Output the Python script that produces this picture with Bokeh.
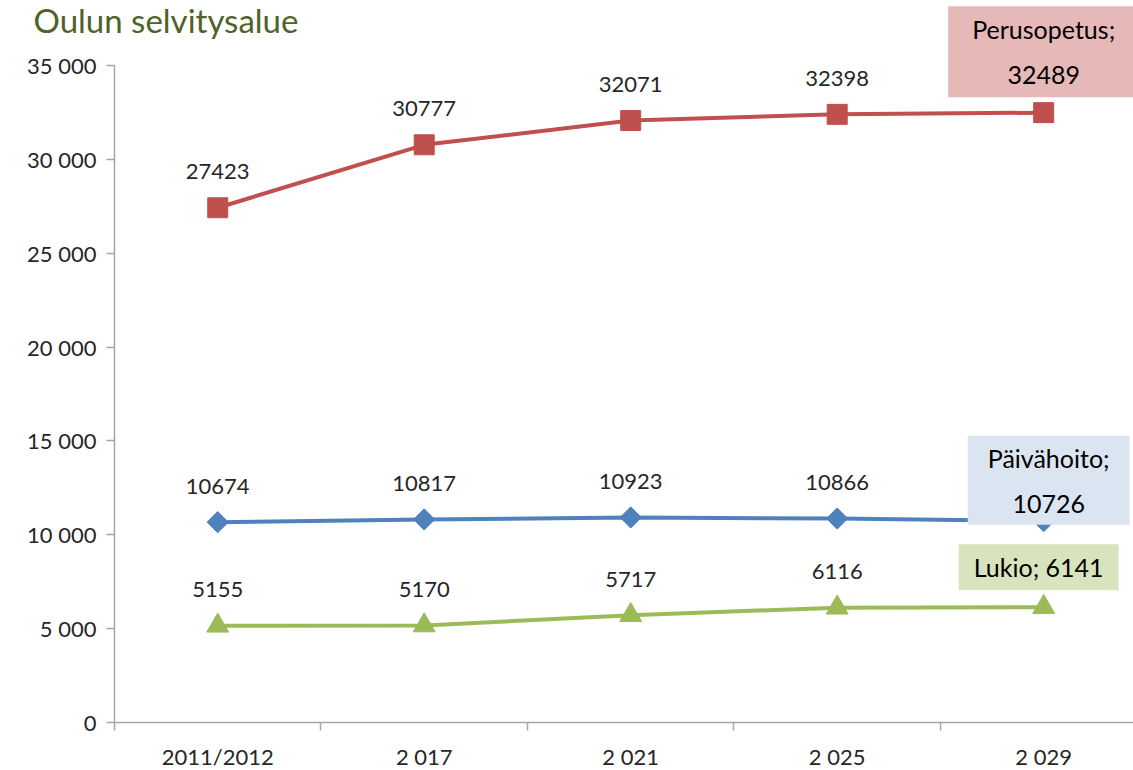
from bokeh.plotting import figure
from bokeh.models import ColumnDataSource, LabelSet, Label, FixedTicker
from bokeh.core.properties import value
from bokeh.embed import file_html
from bokeh.resources import INLINE
import numpy as np

# ---- data ----
categories = ["2011/2012", "2 017", "2 021", "2 025", "2 029"]
paivahoito = [10674, 10817, 10923, 10866, 10726]
perusopetus = [27423, 30777, 32071, 32398, 32489]
lukio = [5155, 5170, 5717, 6116, 6141]
y_ticks = [0, 5000, 10000, 15000, 20000, 25000, 30000, 35000]
title_text = "Oulun selvitysalue"

FONT = "Lato"
TXT = "#262626"
AX = "#A6A6A6"

xs = list(range(len(categories)))

# the frame fills the whole canvas; axes are drawn at fixed positions inside it
p = figure(width=1133, height=770, output_backend="svg", toolbar_location=None,
           x_range=(-1.052, 4.435), y_range=(-2557, 38464),
           min_border_left=0, min_border_right=0, min_border_top=0,
           min_border_bottom=0)
p.outline_line_color = None
p.grid.visible = False
p.background_fill_color = "white"

# y axis
yax = p.yaxis[0]
yax.fixed_location = -0.5
yax.ticker = FixedTicker(ticks=y_ticks)
yax.bounds = (0, 35000)
yax.major_label_overrides = {t: f"{t:,}".replace(",", " ") for t in y_ticks}
yax.major_tick_out = 8
yax.major_tick_in = 0
yax.minor_tick_line_color = None
yax.axis_line_color = AX
yax.axis_line_width = 1.5
yax.major_tick_line_color = AX
yax.major_tick_line_width = 1.5
yax.major_label_text_font = FONT
yax.major_label_text_font_size = "22px"
yax.major_label_text_color = TXT
yax.major_label_standoff = 10

# x axis
xax = p.xaxis[0]
xax.fixed_location = 0
xax.bounds = (-0.5, 4.5)
xax.ticker = FixedTicker(ticks=xs, minor_ticks=[i - 0.5 for i in range(len(categories) + 1)])
xax.major_label_overrides = {i: c for i, c in enumerate(categories)}
xax.major_tick_line_color = None
xax.major_tick_out = 0
xax.major_tick_in = 0
xax.minor_tick_out = 8
xax.minor_tick_in = 0
xax.minor_tick_line_color = AX
xax.minor_tick_line_width = 1.5
xax.axis_line_color = AX
xax.axis_line_width = 1.5
xax.major_label_text_font = FONT
xax.major_label_text_font_size = "22px"
xax.major_label_text_color = TXT
xax.major_label_standoff = 12

series = [
    ("Perusopetus", perusopetus, "#C0504D", "square", 0.0, 20),
    ("Päivähoito", paivahoito, "#4F81BD", "square", np.pi / 4, 15),
    ("Lukio", lukio, "#9BBB59", "triangle", 0.0, 22),
]

for name, vals, col, marker, ang, size in series:
    p.line(xs, vals, line_color=col, line_width=4)
    p.scatter(xs, vals, marker=marker, angle=ang, size=size,
              fill_color=col, line_color=col)
    src = ColumnDataSource(dict(x=xs[:-1], y=vals[:-1], text=[str(v) for v in vals[:-1]]))
    p.add_layout(LabelSet(x="x", y="y", text="text", source=src, y_offset=36,
                          text_align="center", text_baseline="middle",
                          text_font=value(FONT), text_font_size="22px",
                          text_color=TXT))

# boxed labels at the last points
box_specs = [
    (f"Perusopetus;\n{perusopetus[-1]}", perusopetus[-1], 0, 61, "#E6B9B8", (24, 8)),
    (f"Päivähoito;\n{paivahoito[-1]}", paivahoito[-1], 5, 41, "#DBE5F1", (20, 7)),
    (f"Lukio; {lukio[-1]}", lukio[-1], -5, 40, "#D7E4BD", (15, 8)),
]
for text, yv, xo, yo, fill, pad in box_specs:
    p.add_layout(Label(x=xs[-1], y=yv, text=text, x_offset=xo, y_offset=yo,
                       text_align="center", text_baseline="middle",
                       text_font=FONT, text_font_size="25px",
                       text_color="black", text_line_height=1.5,
                       background_fill_color=fill, padding=pad))

# title
p.add_layout(Label(x=33, y=751, x_units="screen", y_units="screen",
                   text=title_text, text_font=FONT, text_font_size="33px",
                   text_color="#4F6228", text_baseline="alphabetic",
                   text_align="left"))

open("out.html", "w").write(file_html(p, INLINE))
